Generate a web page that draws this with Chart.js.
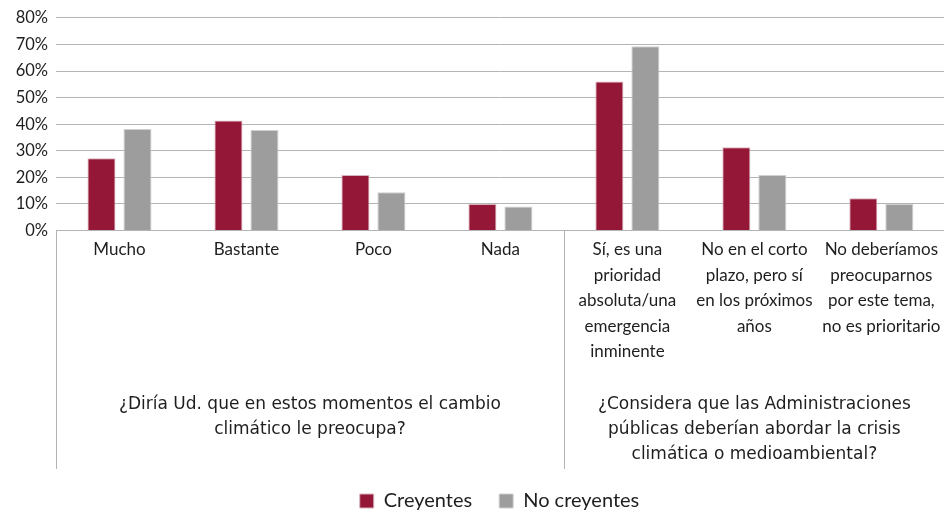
<!DOCTYPE html>
<html>
<head>
<meta charset="utf-8">
<script src="https://cdn.jsdelivr.net/npm/chart.js@4/dist/chart.umd.min.js"></script>
<style>
html,body{margin:0;padding:0;overflow:hidden;background:#fff;}
canvas{display:block;}
</style>
</head>
<body>
<canvas id="c" width="947" height="521"></canvas>
<script>
const categories = [
  'Mucho',
  'Bastante',
  'Poco',
  'Nada',
  ['Sí, es una', 'prioridad', 'absoluta/una', 'emergencia', 'inminente'],
  ['No en el corto', 'plazo, pero sí', 'en los próximos', 'años'],
  ['No deberíamos', 'preocuparnos', 'por este tema,', 'no es prioritario']
];
const groupLabels = [
  ['¿Diría Ud. que en estos momentos el cambio', 'climático le preocupa?'],
  ['¿Considera que las Administraciones', 'públicas deberían abordar la crisis', 'climática o medioambiental?']
];
const groupCenters = [1.5, 5];
const groupBoundaries = [-0.5, 3.5];
const seriesNames = ['Creyentes', 'No creyentes'];
const creyentes = [27.2, 41.4, 20.9, 10, 56.1, 31.3, 12.1];
const noCreyentes = [38.2, 37.8, 14.4, 9, 69.3, 20.9, 10];
const yTicks = [0, 10, 20, 30, 40, 50, 60, 70, 80];

const FONT = 'Lato, "Open Sans", sans-serif';
const FONT_WIDE = '"DejaVu Sans", Lato, sans-serif';
const TEXT = '#1e1e1e';
const GRID = '#b4b4b4';

const separators = {
  id: 'separators',
  afterDraw(chart) {
    const ctx = chart.ctx;
    const x = chart.scales.x;
    const bottom = chart.chartArea.bottom;
    ctx.save();
    ctx.strokeStyle = GRID;
    ctx.lineWidth = 1;
    groupBoundaries.forEach(v => {
      const px = Math.round(x.getPixelForValue(v)) + 0.5;
      ctx.beginPath();
      ctx.moveTo(px, bottom);
      ctx.lineTo(px, 469);
      ctx.stroke();
    });
    ctx.restore();
  },
  afterLayout(chart) {
    const lg = chart.legend;
    if (lg) { lg.left += 26; lg.right += 26; }
  }
};

new Chart(document.getElementById('c'), {
  type: 'bar',
  data: {
    labels: categories,
    datasets: [
      { label: seriesNames[0], data: creyentes, backgroundColor: '#941737', borderColor: '#d9b3bd', borderWidth: 1 },
      { label: seriesNames[1], data: noCreyentes, backgroundColor: '#9d9d9d', borderColor: '#d0d0d0', borderWidth: 1 }
    ]
  },
  options: {
    responsive: false,
    animation: false,
    devicePixelRatio: 1,
    layout: { padding: { top: 16, left: 0, right: 0, bottom: 0 } },
    datasets: { bar: { categoryPercentage: 0.567, barPercentage: 0.78 } },
    plugins: {
      legend: {
        position: 'bottom',
        labels: {
          font: { family: FONT, size: 20 },
          color: TEXT,
          boxWidth: 14,
          boxHeight: 14,
          padding: 27
        }
      },
      tooltip: { enabled: false }
    },
    scales: {
      y: {
        min: 0, max: 80,
        afterBuildTicks(s) { s.ticks = yTicks.map(v => ({ value: v })); },
        afterFit(s) { s.width = 56; },
        ticks: {
          callback: v => v + '%',
          font: { family: FONT, size: 16.5 },
          color: TEXT,
          padding: 8
        },
        grid: { color: GRID, drawTicks: false },
        border: { display: false }
      },
      x: {
        weight: 0,
        afterFit(s) { s.height = 140; },
        ticks: {
          font: { family: FONT, size: 17, lineHeight: 1.5 },
          color: TEXT,
          padding: 6.5,
          maxRotation: 0,
          autoSkip: false
        },
        grid: { display: false, drawTicks: false, tickLength: 0 },
        border: { display: false }
      },
      x2: {
        type: 'linear',
        position: 'bottom',
        axis: 'x',
        weight: 1,
        offset: false,
        min: -0.5, max: 6.5,
        afterBuildTicks(s) { s.ticks = groupCenters.map(v => ({ value: v })); },
        afterFit(s) { s.height = 93.5; },
        ticks: {
          callback: (v) => groupLabels[groupCenters.indexOf(v)] || '',
          font: { family: FONT_WIDE, size: 17, lineHeight: 1.47 },
          color: TEXT,
          padding: 22,
          maxRotation: 0,
          autoSkip: false
        },
        grid: { display: false, drawTicks: false, tickLength: 0, offset: false },
        border: { display: false }
      }
    }
  },
  plugins: [separators]
});
</script>
</body>
</html>
